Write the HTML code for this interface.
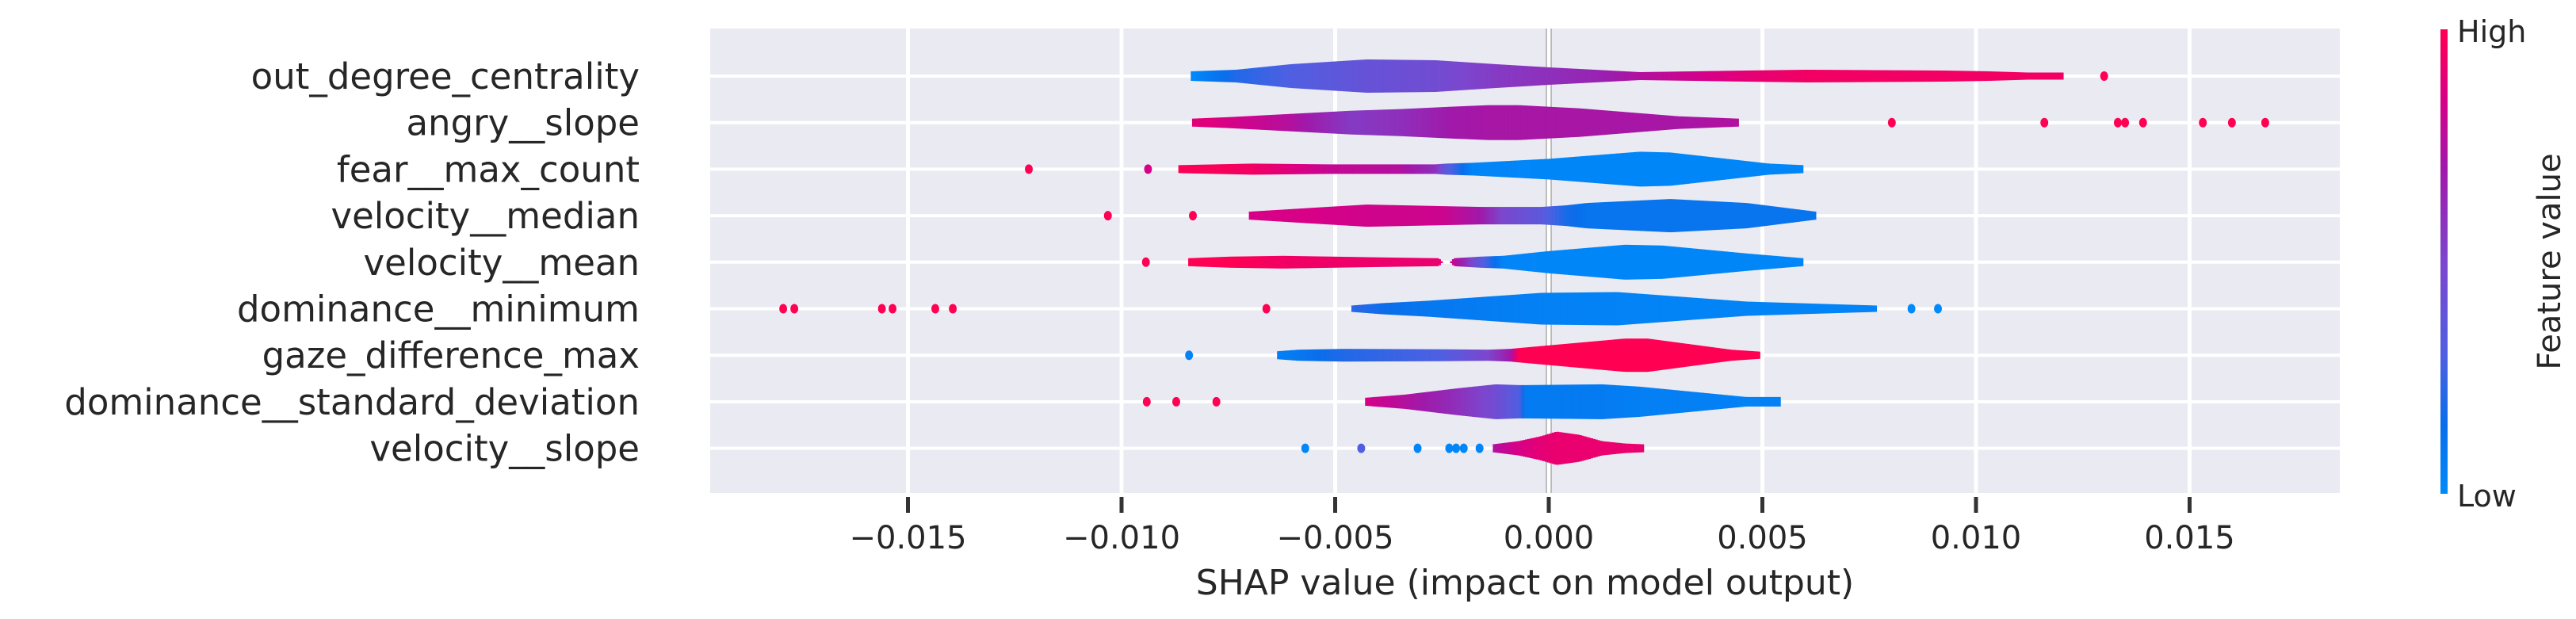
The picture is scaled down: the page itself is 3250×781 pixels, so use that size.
<!DOCTYPE html>
<html><head><meta charset="utf-8"><style>
html,body{margin:0;padding:0;background:#fff;}
svg{display:block;}
text{font-family:"DejaVu Sans","Liberation Sans",sans-serif;fill:#262626;}
</style></head>
<body>
<svg id="chart" width="3250" height="781" viewBox="0 0 3250 781" xmlns="http://www.w3.org/2000/svg">
  <defs>
    <linearGradient id="cbar" x1="0" y1="1" x2="0" y2="0">
      <stop offset="0" stop-color="rgb(0,138,250)"/>
      <stop offset="0.15" stop-color="rgb(10,110,235)"/>
      <stop offset="0.3" stop-color="rgb(80,95,225)"/>
      <stop offset="0.5" stop-color="rgb(124,70,205)"/>
      <stop offset="0.7" stop-color="rgb(160,25,170)"/>
      <stop offset="0.85" stop-color="rgb(215,0,135)"/>
      <stop offset="1" stop-color="rgb(255,0,82)"/>
    </linearGradient>
  </defs>
  <rect x="896" y="36" width="2056" height="586" fill="#eaeaf2"/>
  <g id="grid"></g>
  <g id="marks"></g>
  <g id="axes"></g>
  <text x="1924" y="750" font-size="44" text-anchor="middle">SHAP value (impact on model output)</text>
  <rect x="3079" y="37" width="9" height="586" fill="url(#cbar)"/>
  <text x="3100" y="53" font-size="38">High</text>
  <text x="3100" y="639" font-size="38">Low</text>
  <text transform="translate(3230,330) rotate(-90)" font-size="40" text-anchor="middle">Feature value</text>
</svg>
<script>
const features = ["out_degree_centrality","angry__slope","fear__max_count","velocity__median","velocity__mean","dominance__minimum","gaze_difference_max","dominance__standard_deviation","velocity__slope"];
const xTicks = [-0.015,-0.010,-0.005,0.000,0.005,0.010,0.015];
const xTickLabels = ["\u22120.015","\u22120.010","\u22120.005","0.000","0.005","0.010","0.015"];
const vVals = [
 [-0.00838,-0.00732,-0.00604,-0.00426,-0.00266,-0.00124,0,0.00107,0.00213,0.00462,0.00604,0.00924,0.0103,0.0112,0.01204],
 [-0.00835,-0.00746,-0.00604,-0.00462,-0.00350,-0.00231,-0.00142,-0.00071,0.00071,0.00302,0.00444],
 [-0.00867,-0.00693,-0.00515,-0.00350,-0.00266,-0.00240,-0.00178,0,0.00213,0.00284,0.00515,0.00595],
 [-0.00702,-0.00551,-0.00426,-0.00249,-0.00160,-0.00110,-0.00018,0.00040,0.00089,0.00284,0.00462,0.00625],
 [-0.00844,-0.00746,-0.00622,-0.00391,-0.00258,-0.00249,-0.00231,-0.00222,-0.00160,-0.00107,0,0.00178,0.00266,0.00462,0.00595],
 [-0.00462,-0.00390,-0.00284,-0.00018,0.0016,0.00462,0.00767],
 [-0.00636,-0.00586,-0.0048,-0.0025,-0.00142,-0.00090,-0.00071,0.00178,0.00231,0.00426,0.00494],
 [-0.0043,-0.00337,-0.00213,-0.00124,-0.00070,-0.00055,0.00124,0.00213,0.00462,0.00542],
 [-0.00131,-0.00071,-0.00020,0.00018,0.00071,0.00124,0.00178,0.00222]
];
const vHalf = [
 [6,8,15,21,20,15,11,8,5,7,8,7,6,4.5,4.5],
 [5,7,11,15,17,20,22,22,18,8,5],
 [5,7,6,6,6,7,8,13,22,21,7,5],
 [5,10,14,12,11,11,11,13,16,21,16,5],
 [5,7,8,6,5,0,0,5,7,8,14,22,21,11,5],
 [4,7,10,20,21,9,4],
 [5,7,8,7.5,7,8,9,21,21,7,4.5],
 [5,9,17,22,21,21,22,19,6,6],
 [5,9,15,21,17,9,6,5]
];
const vColor = [
 [0,0.2,0.3,0.4,0.45,0.55,0.6,0.65,0.75,0.9,0.95,0.95,0.95,0.95,0.95],
 [0.9,0.85,0.75,0.55,0.6,0.7,0.72,0.72,0.72,0.72,0.75],
 [1,0.95,0.8,0.75,0.6,0.35,0.03,0.02,0.02,0.02,0.02,0.02],
 [0.85,0.85,0.83,0.82,0.7,0.5,0.35,0.18,0.12,0.12,0.12,0.12],
 [1,1,0.95,0.93,0.92,0.9,0.85,0.8,0.35,0.03,0.02,0.02,0.02,0.02,0.02],
 [0.22,0.16,0.1,0.05,0.04,0.03,0.03],
 [0.05,0.1,0.2,0.3,0.5,0.7,1,1,1,1,1],
 [0.85,0.75,0.6,0.45,0.3,0.08,0.08,0.06,0.05,0.05],
 [0.75,0.85,0.9,0.92,0.92,0.92,0.92,0.92]
];
const dotVals = [
 [0.0130],
 [0.00803,0.0116,0.01332,0.01349,0.01391,0.01531,0.01599,0.01677],
 [-0.01217,-0.00938],
 [-0.01032,-0.00833],
 [-0.00943],
 [-0.01792,-0.01766,-0.01561,-0.01536,-0.01436,-0.01395,-0.00661,0.00849,0.00911],
 [-0.00842],
 [-0.00941,-0.00872,-0.00778],
 [-0.0057,-0.00439,-0.00307,-0.00233,-0.00217,-0.00199,-0.00162]
];
const dotColor = [
 [1],
 [1,1,1,1,1,1,1,1],
 [1,0.85],
 [1,1],
 [1],
 [1,1,1,1,1,1,1,0,0],
 [0.03],
 [1,1,1],
 [0.02,0.3,0.02,0.02,0.02,0.02,0.02]
];

const NS="http://www.w3.org/2000/svg";
const X0=1954, XS=53900, PL=896, PR=2952, PT=36, PB=622;
function xScale(v){return X0+v*XS;}
function yScale(i){return 96+i*58.7;}
const stops=[[0,[0,138,250]],[0.15,[10,110,235]],[0.3,[80,95,225]],[0.5,[124,70,205]],[0.7,[160,25,170]],[0.85,[215,0,135]],[1,[255,0,82]]];
function cmap(t){
  t=Math.max(0,Math.min(1,t));
  for(let k=1;k<stops.length;k++){
    if(t<=stops[k][0]){
      const a=stops[k-1],b=stops[k],f=(t-a[0])/(b[0]-a[0]);
      const c=a[1].map((x,j)=>Math.round(x+(b[1][j]-x)*f));
      return "rgb("+c.join(",")+")";
    }
  }
  return "rgb(255,0,82)";
}
function mk(tag,attrs,parent){const e=document.createElementNS(NS,tag);for(const k in attrs)e.setAttribute(k,attrs[k]);parent.appendChild(e);return e;}

const grid=document.getElementById('grid'), marks=document.getElementById('marks'), axes=document.getElementById('axes');
xTicks.forEach((t,i)=>{
  const x=xScale(t);
  const g=mk('line',{x1:x,x2:x,y1:PT,y2:PB,stroke:'#fff','stroke-width':5},grid);
  
  
  const tk=mk('line',{x1:x,x2:x,y1:627,y2:647,stroke:'#333','stroke-width':5},axes);
  
  
  const lb=mk('text',{x:x,y:692,'font-size':40,'text-anchor':'middle',fill:'#333'},axes);
  lb.textContent=xTickLabels[i];
  
  
});
features.forEach((f,i)=>{
  const y=yScale(i);
  const g=mk('line',{x1:PL,x2:PR,y1:y,y2:y,stroke:'#fff','stroke-width':4},grid);
  
  
  const lb=mk('text',{x:807,y:y+16,'font-size':45,'text-anchor':'end'},axes);
  lb.textContent=f;
  
  
});
const zl=mk('line',{x1:X0-3,x2:X0-3,y1:PT,y2:PB,stroke:'#999','stroke-width':1.2},grid);


const zl2=mk('line',{x1:X0+3,x2:X0+3,y1:PT,y2:PB,stroke:'#999','stroke-width':1.2},grid);



features.forEach((f,i)=>{
  const y=yScale(i);
  const g=mk('g',{},marks);
  
  
  const vs=vVals[i], hs=vHalf[i], cs=vColor[i];
  for(let k=0;k<vs.length-1;k++){
    const xa=xScale(vs[k]), xb=xScale(vs[k+1]);
    const n=Math.max(1,Math.ceil((xb-xa)/3));
    for(let s=0;s<n;s++){
      const f0=s/n, f1=(s+1)/n, fm=(f0+f1)/2;
      const hw=hs[k]+(hs[k+1]-hs[k])*fm;
      if(hw<=0.5) continue;
      const c=cs[k]+(cs[k+1]-cs[k])*fm;
      const r=mk('rect',{x:xa+(xb-xa)*f0,y:y-hw,width:(xb-xa)/n+0.6,height:2*hw,fill:cmap(c)},g);
      
      
    }
  }
  dotVals[i].forEach((v,j)=>{
    const d=mk('ellipse',{cx:xScale(v),cy:y,rx:5,ry:6,fill:cmap(dotColor[i][j])},g);
    
    
  });
});
</script>
</body></html>
